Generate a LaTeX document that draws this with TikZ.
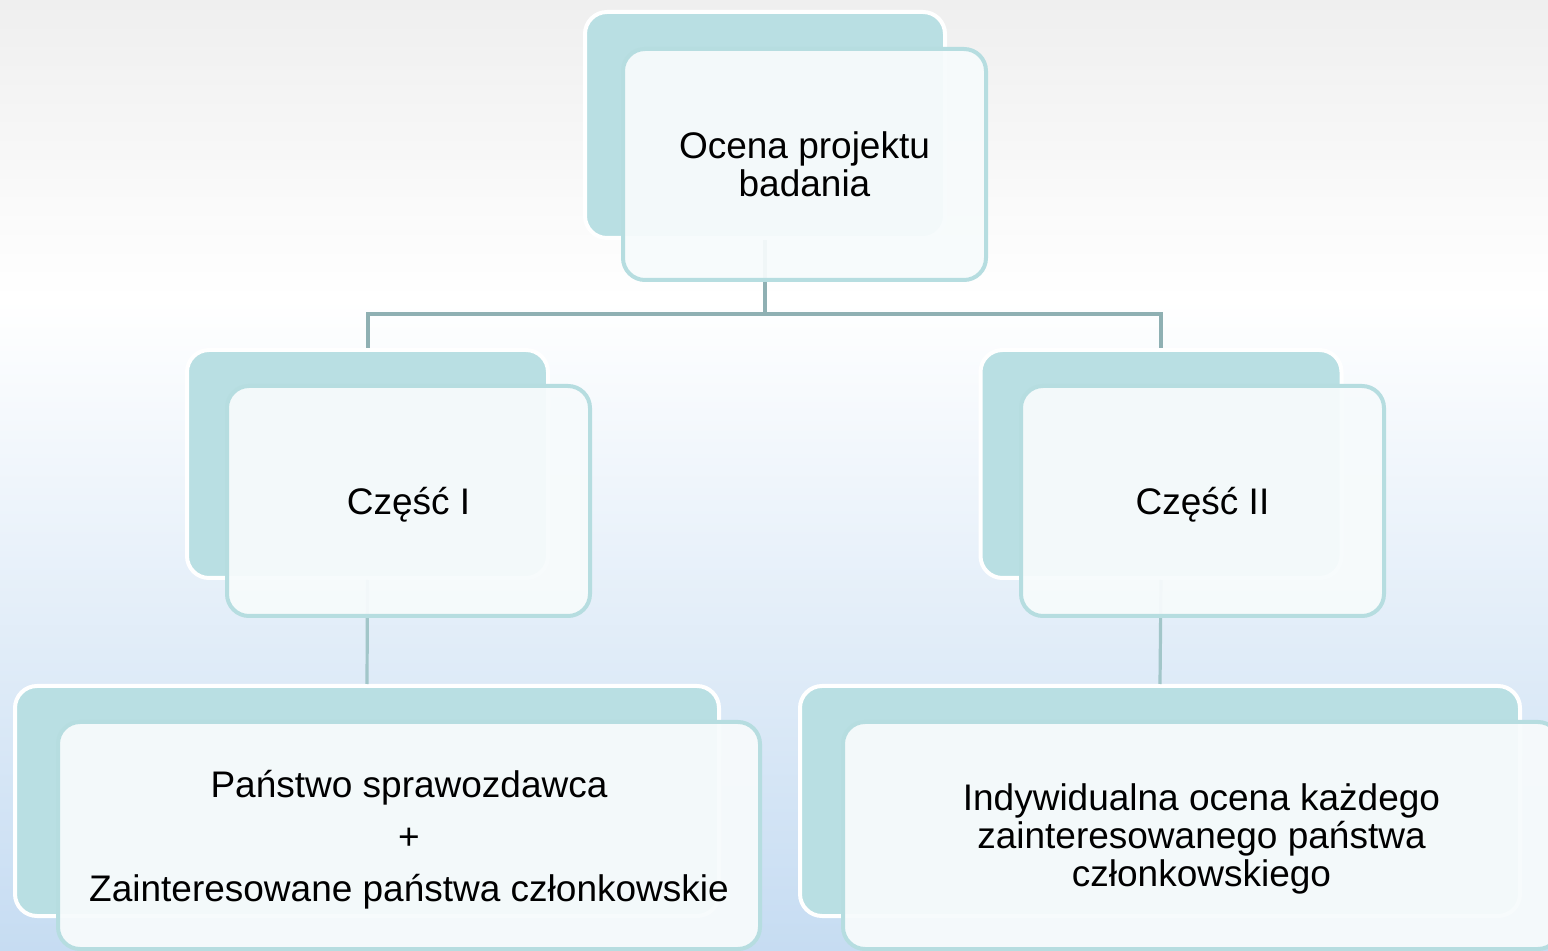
\documentclass[tikz,border=0pt]{standalone}
\usepackage{fontspec}
\setmainfont{Liberation Sans}
\usepackage{tikz}
\usetikzlibrary{positioning}

\definecolor{bgtop}{HTML}{EFEFEF}
\definecolor{bgbot}{HTML}{C6DCF2}
\definecolor{backfill}{HTML}{B9DFE3}
\definecolor{frontfill}{HTML}{F7FBFC}
\definecolor{frontline}{HTML}{B6DDE0}
\definecolor{linkcol}{HTML}{8FB0B3}
\definecolor{linkcolb}{HTML}{A2C6C9}

\begin{document}
\begin{tikzpicture}[x=0.5pt,y=-0.5pt,
	backbox/.style={rectangle,rounded corners=11pt,fill=backfill,draw=white,line width=2pt,inner sep=0pt},
	frontbox/.style={rectangle,rounded corners=11pt,fill=frontfill,fill opacity=0.94,text opacity=1,draw=frontline,line width=2pt,inner sep=0pt,text depth=0pt,align=center,font=\fontsize{18.5}{19}\selectfont},
	link/.style={draw=linkcol,line width=2pt},
	linkb/.style={draw=linkcolb,line width=1.6pt}]
	\useasboundingbox (0,0) rectangle (1548,951);
	\clip (0,0) rectangle (1548,951);
	% background
	\shade[top color=bgtop,bottom color=white] (0,0) rectangle (1548,300);
	\shade[top color=white,bottom color=bgbot] (0,299) rectangle (1548,951);
	% back boxes
	\node[backbox,minimum width=180pt,minimum height=113pt] (topb) at (765,125) {};
	\node[backbox,minimum width=180.5pt,minimum height=114pt] (cz1b) at (367.5,464) {};
	\node[backbox,minimum width=180.5pt,minimum height=114pt] (cz2b) at (1161,464) {};
	\node[backbox,minimum width=352pt,minimum height=115pt] (pan1b) at (367,801) {};
	\node[backbox,minimum width=360pt,minimum height=115pt] (pan2b) at (1160,801) {};
	% connectors
	\draw[link] (topb.south) -- ++(0,74) coordinate (split) -| (cz1b.north);
	\draw[link] (split) -| (cz2b.north);
	\draw[linkb] (cz1b.south) -- (pan1b.north);
	\draw[linkb] (cz2b.south) -- (pan2b.north);
	% front boxes
	\node[frontbox,minimum width=181.5pt,minimum height=115.5pt] (top) at (804.5,164.5) {Ocena projektu\\badania};
	\node[frontbox,minimum width=181.5pt,minimum height=115pt] (cz1) at (408.5,501) {Część I};
	\node[frontbox,minimum width=181.5pt,minimum height=115pt] (cz2) at (1202.5,501) {Część II};
	\node[frontbox,minimum width=351pt,minimum height=113.5pt] (pan1) at (409,835.5) {Państwo sprawozdawca\\[7pt]+\\[7pt]Zainteresowane państwa członkowskie};
	\node[frontbox,minimum width=358.5pt,minimum height=113.5pt] (pan2) at (1201.5,835.5) {Indywidualna ocena każdego\\zainteresowanego państwa\\członkowskiego};
\end{tikzpicture}
\end{document}
